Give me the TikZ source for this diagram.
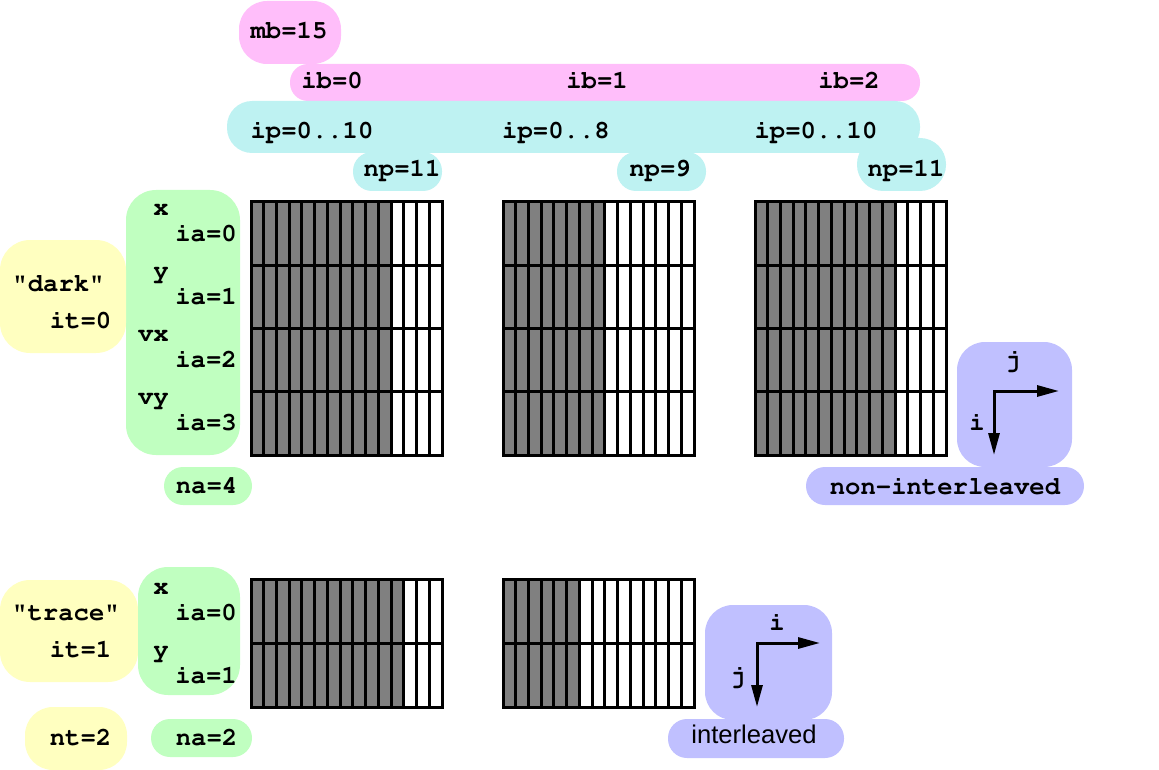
\documentclass[tikz,border=0pt]{standalone}
\usepackage[T1,TU]{fontenc}
\usepackage{fontspec}
\setmainfont{Liberation Sans}
\setsansfont{Liberation Sans}
\setmonofont{Liberation Mono}
\usetikzlibrary{arrows.meta}
\definecolor{pinkb}{RGB}{255,190,250}
\definecolor{cyanb}{RGB}{190,242,242}
\definecolor{yellowb}{RGB}{255,255,192}
\definecolor{greenb}{RGB}{192,255,192}
\definecolor{blueb}{RGB}{192,192,255}
\definecolor{cellgray}{RGB}{128,128,128}
\newcommand\courbold{\fontencoding{T1}\fontfamily{pcr}\fontseries{b}\fontshape{n}\fontsize{25.6}{30}\selectfont}
\tikzset{
  lbl/.style={font=\courbold, inner sep=0pt, anchor=base},
  lble/.style={lbl, anchor=base east},
  sanslbl/.style={font=\sffamily\fontsize{25.6}{30}\selectfont, inner sep=0pt, anchor=base},
  gridline/.style={line width=3pt},
  axes/.style={line width=3pt, {Triangle[length=22pt,width=11pt]}-{Triangle[length=22pt,width=11pt]}},
}
\newcommand\memgrid[6]{%
  \pgfmathsetmacro\mgw{(#3-#1)/15}%
  \pgfmathsetmacro\mgh{(#4-#2)/#5}%
  \pgfmathtruncatemacro\mgr{#5-1}%
  \fill[cellgray] (#1,#2) rectangle ({#1+#6*\mgw},#4);
  \foreach \k in {1,...,14} \draw[gridline] ({#1+\k*\mgw},#2) -- ({#1+\k*\mgw},#4);
  \foreach \r in {1,...,\mgr} \draw[gridline] (#1,{#2+\r*\mgh}) -- (#3,{#2+\r*\mgh});
  \draw[gridline] (#1,#2) rectangle (#3,#4);
}
\begin{document}
\begin{tikzpicture}[x=1pt,y=-1pt]
\useasboundingbox (0,0) rectangle (1159,770);
% blobs
\fill[pinkb, rounded corners=28] (239,1) rectangle (341,64);
\fill[pinkb, rounded corners=18] (290,64) rectangle (920,101);
\fill[cyanb, rounded corners=25] (227,101) rectangle (920,153);
\fill[cyanb, rounded corners=19] (353,152) rectangle (442,191);
\fill[cyanb, rounded corners=19] (617,152) rectangle (706,191);
\fill[cyanb, rounded corners=26] (857,138) rectangle (946,191);
\fill[greenb, rounded corners=30] (126,190) rectangle (240,455);
\fill[yellowb, rounded corners=30] (0,240) rectangle (126,353);
\fill[greenb, rounded corners=19] (164,467) rectangle (252,505);
\fill[yellowb, rounded corners=30] (0,580) rectangle (138,682);
\fill[greenb, rounded corners=30] (138,567) rectangle (240,695);
\fill[yellowb, rounded corners=28] (25,707) rectangle (127,770);
\fill[greenb, rounded corners=19] (151,719) rectangle (252,757);
\fill[blueb, rounded corners=28] (957,342) rectangle (1072,467);
\fill[blueb, rounded corners=19] (806,467) rectangle (1084,505);
\fill[blueb, rounded corners=28] (705,605) rectangle (832,720);
\fill[blueb, rounded corners=19] (668,719) rectangle (844,758);
% grids
\memgrid{251}{202}{442}{455}{4}{11}
\memgrid{503}{202}{694}{455}{4}{8}
\memgrid{755}{202}{946}{455}{4}{11}
\memgrid{251}{579}{442}{707}{2}{12}
\memgrid{503}{579}{694}{707}{2}{6}
% top labels
\node[lbl] (mb) at (289,39) {mb=15};
\node[lbl] (ib0) at (332,89) {ib=0};
\node[lbl] (ib1) at (597,89) {ib=1};
\node[lbl] (ib2) at (849,89) {ib=2};
\node[lbl] (ip0) at (312,139) {ip=0..10};
\node[lbl] (ip1) at (556,139) {ip=0..8};
\node[lbl] (ip2) at (816,139) {ip=0..10};
\node[lbl] (np0) at (402,177) {np=11};
\node[lbl] (np1) at (660,177) {np=9};
\node[lbl] (np2) at (906,177) {np=11};
% dark
\node[lble] (dx) at (169,215) {x};
\node[lble] (dy) at (169,278) {y};
\node[lble] (dvx) at (169,341) {vx};
\node[lble] (dvy) at (169,404) {vy};
\node[lble] (dia0) at (237,241) {ia=0};
\node[lble] (dia1) at (237,304) {ia=1};
\node[lble] (dia2) at (237,367) {ia=2};
\node[lble] (dia3) at (237,430) {ia=3};
\node[lbl] (dark) at (58.5,291) {"dark"};
\node[lbl] (it0) at (80.5,328) {it=0};
\node[lbl] (na4) at (206.5,493) {na=4};
% trace
\node[lble] (tx) at (169,594) {x};
\node[lble] (ty) at (169,657) {y};
\node[lble] (tia0) at (237,620) {ia=0};
\node[lble] (tia1) at (237,683) {ia=1};
\node[lbl] (trace) at (66,620) {"trace"};
\node[lbl] (it1) at (80.5,657) {it=1};
\node[lbl] (nt2) at (80.5,745) {nt=2};
\node[lbl] (na2) at (206.5,745) {na=2};
% non-interleaved axes
\node[lbl] (nilabel) at (945,494) {non-interleaved};
\node[lbl] (nij) at (1013,367) {j};
\node[lbl] (nii) at (977,430) {i};
\coordinate (nic) at (994,391);
\coordinate (nir) at (1059,391);
\coordinate (nid) at (994,455);
\draw[axes] (nid) -- (nic) -- (nir);
% interleaved axes
\node[sanslbl] (ilabel) at (754,743) {interleaved};
\node[lbl] (ii) at (777,630) {i};
\node[lbl] (ij) at (738,683) {j};
\coordinate (ic) at (757,643);
\coordinate (ir) at (820,643);
\coordinate (id) at (757,707);
\draw[axes] (id) -- (ic) -- (ir);
\end{tikzpicture}
\end{document}
